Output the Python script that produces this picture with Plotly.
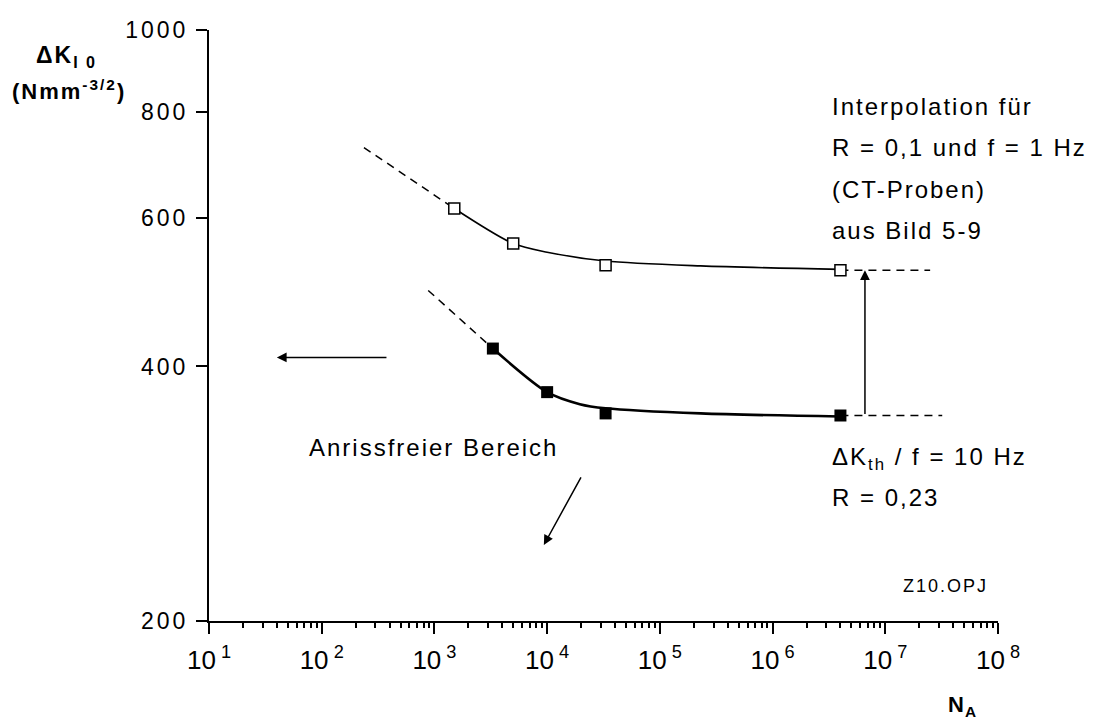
import math
import plotly.graph_objects as go

# ---- data ----
upper_x = [1500, 5000, 33000, 4.0e6]          # open squares, f = 1 Hz interpolation
upper_y = [615, 559, 527, 520]
lower_x = [3300, 10000, 33000, 4.0e6]         # filled squares, f = 10 Hz
lower_y = [420, 373, 352, 350]

upper_curve_x = [1500, 5000, 10000, 33000, 2.3e5, 4.0e6]
upper_curve_y = [615, 559, 546, 533, 526, 521]
lower_curve_x = [3300, 10000, 19500, 33000, 2.3e5, 4.0e6]
lower_curve_y = [420, 373, 361, 357, 352, 349]

upper_dash_x = [237, 1500]
upper_dash_y = [726, 615]
lower_dash_x = [881, 3300]
lower_dash_y = [492, 420]
upper_right_dash_x = [4.0e6, 2.5e7]
upper_right_dash_y = [520, 520]
lower_right_dash_x = [4.0e6, 3.2e7]
lower_right_dash_y = [350, 350]

# arrows: (tip_x, tip_y, tail_x, tail_y) in data units
arrow_up = (6.6e6, 520, 6.6e6, 350)
arrow_left = (40, 410, 387, 410)
arrow_diag = (9350, 246, 20300, 297)

x_tick_vals = [1e1, 1e2, 1e3, 1e4, 1e5, 1e6, 1e7, 1e8]
x_tick_text = ["10<sup> 1</sup>", "10<sup> 2</sup>", "10<sup> 3</sup>", "10<sup> 4</sup>",
               "10<sup> 5</sup>", "10<sup> 6</sup>", "10<sup> 7</sup>", "10<sup> 8</sup>"]
y_tick_vals = [200, 400, 600, 800, 1000]
y_tick_text = ["200", "400", "600", "800", "1000"]

FONT = "Liberation Sans, Arial, sans-serif"


def sp(s, ls):
    return f"<span style='letter-spacing:{ls}px'>{s}</span>"


fig = go.Figure()

dash_style = dict(color="black", width=1.5, dash="8px,6px")
fig.add_trace(go.Scatter(x=upper_dash_x, y=upper_dash_y, mode="lines", line=dash_style))
fig.add_trace(go.Scatter(x=lower_dash_x, y=lower_dash_y, mode="lines", line=dash_style))
fig.add_trace(go.Scatter(x=upper_right_dash_x, y=upper_right_dash_y, mode="lines", line=dash_style))
fig.add_trace(go.Scatter(x=lower_right_dash_x, y=lower_right_dash_y, mode="lines", line=dash_style))

fig.add_trace(go.Scatter(x=upper_curve_x, y=upper_curve_y, mode="lines",
                         line=dict(color="black", width=1.6, shape="spline", smoothing=0.8)))
fig.add_trace(go.Scatter(x=lower_curve_x, y=lower_curve_y, mode="lines",
                         line=dict(color="black", width=2.6, shape="spline", smoothing=0.8)))

fig.add_trace(go.Scatter(x=upper_x, y=upper_y, mode="markers",
                         marker=dict(symbol="square", size=11, color="white",
                                     line=dict(color="black", width=1.5))))
fig.add_trace(go.Scatter(x=lower_x, y=lower_y, mode="markers",
                         marker=dict(symbol="square", size=12, color="black",
                                     line=dict(color="black", width=0))))

minor_vals = [m * 10 ** k for k in range(1, 8) for m in range(2, 10)]

fig.update_xaxes(type="log", range=[1, 8], showline=True, linecolor="black", linewidth=2,
                 ticks="outside", ticklen=11, tickwidth=2, tickcolor="black",
                 tickmode="array", tickvals=x_tick_vals, ticktext=x_tick_text,
                 tickfont=dict(size=26, color="black", family=FONT),
                 showgrid=False, zeroline=False, ticklabelstandoff=4,
                 minor=dict(tickmode="array", tickvals=minor_vals, ticks="outside",
                            ticklen=5, tickwidth=1.5, tickcolor="black", showgrid=False))
fig.update_yaxes(type="log", range=[math.log10(200), 3], showline=True, linecolor="black",
                 linewidth=2, ticks="outside", ticklen=11, tickwidth=2, tickcolor="black",
                 tickmode="array", tickvals=y_tick_vals,
                 ticktext=[sp(t, 3) for t in y_tick_text],
                 tickfont=dict(size=23, color="black", family=FONT),
                 showgrid=False, zeroline=False, ticklabelstandoff=3)


def px_x(px):
    return (px - 209) / 789


def px_y(py):
    return (621 - py) / 591.5


ann = []


def text(s, x, y, size=24, xanchor="left", yanchor="middle", ls=2):
    ann.append(dict(text=sp(s, ls), x=px_x(x), y=px_y(y), xref="paper", yref="paper",
                    showarrow=False, xanchor=xanchor, yanchor=yanchor,
                    font=dict(size=size, color="black", family=FONT)))


text("Interpolation für", 830, 106)
text("R = 0,1 und f = 1 Hz", 830, 147)
text("(CT-Proben)", 830, 189)
text("aus Bild 5-9", 830, 230)
text("ΔK<sub>th</sub> / f = 10 Hz", 830, 458)
text("R = 0,23", 830, 497)
text("Anrissfreier Bereich", 433, 447, xanchor="center")
text("Z10.OPJ", 945, 586, size=18, xanchor="center")
text("<b>ΔK<sub>I 0</sub></b>", 99, 56, size=23, xanchor="right", ls=2)
text("<b>(Nmm<sup>-3/2</sup>)</b>", 128, 90, size=22, xanchor="right", ls=2)
text("<b>N<sub>A</sub></b>", 946, 706, size=22, ls=1)

for tip_x, tip_y, tail_x, tail_y in (arrow_up, arrow_left, arrow_diag):
    ann.append(dict(x=math.log10(tip_x), y=math.log10(tip_y),
                    ax=math.log10(tail_x), ay=math.log10(tail_y),
                    xref="x", yref="y", axref="x", ayref="y", text="",
                    showarrow=True, arrowhead=2, arrowsize=1.3, arrowwidth=1.5,
                    arrowcolor="black", standoff=0, startstandoff=0))

fig.update_layout(width=1096, height=720, margin=dict(l=209, r=98, t=30, b=99),
                  paper_bgcolor="white", plot_bgcolor="white", showlegend=False,
                  font=dict(family=FONT, color="black"), annotations=ann)

fig.write_html("out.html")
